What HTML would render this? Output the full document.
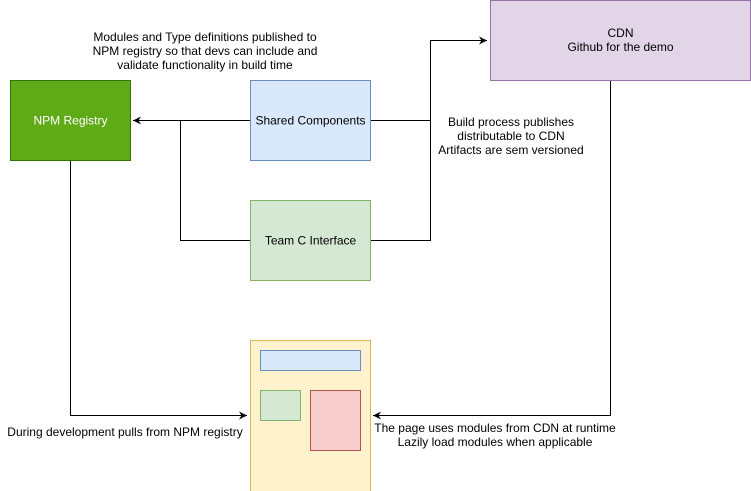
<!DOCTYPE html>
<html><head><style>
body{margin:0;background:#fff;}
svg{display:block;font-family:"Liberation Sans",Arial,sans-serif;font-size:12px;}
</style></head><body>
<svg width="751" height="491" viewBox="0 0 751 491" xmlns="http://www.w3.org/2000/svg">
<defs><marker id="a" markerWidth="10" markerHeight="10" refX="8" refY="5" orient="auto" markerUnits="userSpaceOnUse"><path d="M0,1 L8,5 L0,9 L2.5,5 Z" fill="#000"/></marker></defs>
<g fill="none" stroke="#000" stroke-width="1">
<path d="M250.5,120.5 H133" marker-end="url(#a)"/>
<path d="M250.5,240.5 H180.5 V120.5"/>
<path d="M370.5,120.5 H430.5 V40.5 H487" marker-end="url(#a)"/>
<path d="M370.5,240.5 H430.5 V120.5"/>
<path d="M70.5,160.5 V415.5 H247" marker-end="url(#a)"/>
<path d="M610.5,80.5 V415.5 H373" marker-end="url(#a)"/>
</g>
<rect x="10.5" y="80.5" width="120" height="80" fill="#60a917" stroke="#2d7600"/>
<text x="70.5" y="124.5" fill="#fff" text-anchor="middle">NPM Registry</text>
<rect x="250.5" y="80.5" width="120" height="80" fill="#dae8fc" stroke="#6c8ebf"/>
<text x="310.5" y="124.5" text-anchor="middle">Shared Components</text>
<rect x="250.5" y="200.5" width="120" height="80" fill="#d5e8d4" stroke="#82b366"/>
<text x="310.5" y="244.5" text-anchor="middle">Team C Interface</text>
<rect x="490.5" y="0.5" width="260" height="80" fill="#e1d5e7" stroke="#9673a6"/>
<text x="620.5" y="37" text-anchor="middle">CDN</text>
<text x="620.5" y="51" text-anchor="middle">Github for the demo</text>
<rect x="250.5" y="340.5" width="120" height="152" fill="#fff2cc" stroke="#d6b656"/>
<rect x="260.5" y="350.5" width="100" height="20" fill="#dae8fc" stroke="#6c8ebf"/>
<rect x="260.5" y="390.5" width="40" height="30" fill="#d5e8d4" stroke="#82b366"/>
<rect x="310.5" y="390.5" width="50" height="60" fill="#f8cecc" stroke="#b85450"/>
<g text-anchor="middle">
<text x="205" y="41">Modules and Type definitions published to</text>
<text x="205" y="55">NPM registry so that devs can include and</text>
<text x="205" y="69">validate functionality in build time</text>
<text x="511" y="126">Build process publishes</text>
<text x="511" y="140">distributable to CDN</text>
<text x="511" y="154">Artifacts are sem versioned</text>
<text x="125" y="436">During development pulls from NPM registry</text>
<text x="495" y="432">The page uses modules from CDN at runtime</text>
<text x="495" y="446">Lazily load modules when applicable</text>
</g>
</svg>
</body></html>
